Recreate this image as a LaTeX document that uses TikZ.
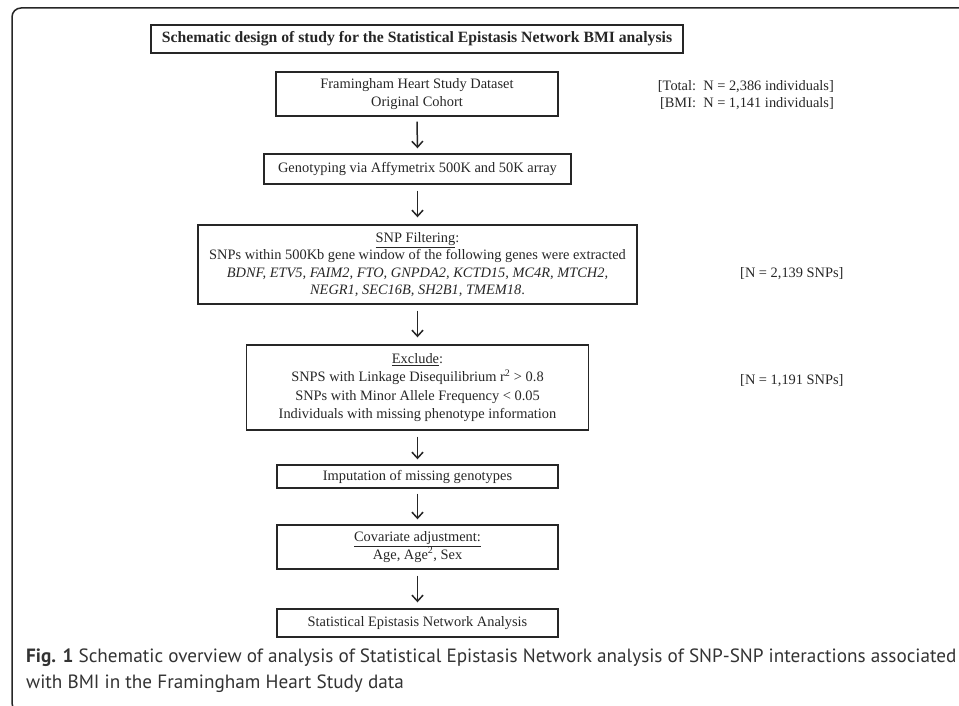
\documentclass[tikz,border=0pt]{standalone}
\usepackage{fontspec}
\setmainfont{Liberation Serif}
\newfontfamily\capfont{PT Sans}
\usetikzlibrary{arrows.meta}
\definecolor{ink}{HTML}{262626}
\definecolor{captxt}{HTML}{333333}
\begin{document}
\begin{tikzpicture}[x=1pt,y=-1pt,
  box/.style={draw=ink, line width=1.4pt, inner sep=0pt, text=ink, align=center,
    font=\fontsize{14.4}{17.3}\selectfont},
  arr/.style={draw=ink, line width=1.5pt, -{Straight Barb[length=6pt,width=11pt,line width=1.5pt]}},
  side/.style={text=ink, inner sep=0pt, font=\fontsize{14.4}{17}\selectfont},
  captext/.style={text=captxt, inner sep=0pt, anchor=west, font=\capfont\fontsize{19.2}{23}\selectfont}]
\clip (0,0) rectangle (959,706);
% outer frame
\draw[ink, line width=1.5pt, rounded corners=9pt] (970,8) -- (12,8) -- (12,712) -- (970,712);
% boxes
\node[box, minimum width=532pt, minimum height=28pt, font=\bfseries\fontsize{15.7}{18}\selectfont] (title) at (417,39)
  {Schematic design of study for the Statistical Epistasis Network BMI analysis};
\node[box, minimum width=282pt, minimum height=44pt] (b1) at (417,94)
  {Framingham Heart Study Dataset\\Original Cohort};
\node[box, minimum width=307pt, minimum height=30pt] (b2) at (417.5,169)
  {Genotyping via Affymetrix 500K and 50K array};
\node[box, minimum width=439pt, minimum height=79pt] (b3) at (417.5,264.5)
  {\underline{SNP Filtering}:\\
   SNPs within 500Kb gene window of the following genes were extracted\\
   \textit{BDNF, ETV5, FAIM2, FTO, GNPDA2, KCTD15, MC4R, MTCH2,}\\
   \textit{NEGR1, SEC16B, SH2B1, TMEM18}.};
\node[box, minimum width=342pt, minimum height=85pt, font=\fontsize{14.4}{18.3}\selectfont] (b4) at (417.5,387.5)
  {\underline{Exclude}:\\
   SNPS with Linkage Disequilibrium r\textsuperscript{2} > 0.8\\
   SNPs with Minor Allele Frequency < 0.05\\
   Individuals with missing phenotype information};
\node[box, minimum width=281pt, minimum height=23pt] (b5) at (417.5,476.5)
  {Imputation of missing genotypes};
\node[box, minimum width=281pt, minimum height=44pt] (b6) at (417.5,547)
  {\underline{Covariate adjustment:}\\Age, Age\textsuperscript{2}, Sex};
\node[box, minimum width=281pt, minimum height=28pt] (b7) at (417.5,623)
  {Statistical Epistasis Network Analysis};
% side notes
\node[side, align=right, anchor=east] (n1) at (834,95.5)
  {{[Total:\ \ N = 2,386 individuals]}\\{}{[BMI:\ \ N = 1,141 individuals]}};
\node[side, anchor=west] (n2) at (740,274) {[N = 2,139 SNPs]};
\node[side, anchor=west] (n3) at (740,381) {[N = 1,191 SNPs]};
% arrows
\draw[arr] ([yshift=-5pt]b1.south) -- ([yshift=5pt]b2.north);
\draw[arr] ([yshift=-6pt]b2.south) -- ([yshift=7pt]b3.north);
\draw[arr] ([yshift=-6pt]b3.south) -- ([yshift=7pt]b4.north);
\draw[arr] ([yshift=-6pt]b4.south) -- ([yshift=5pt]b5.north);
\draw[arr] ([yshift=-5pt]b5.south) -- ([yshift=5pt]b6.north);
\draw[arr] ([yshift=-6pt]b6.south) -- ([yshift=6pt]b7.north);
% caption
\node[captext] (c1) at (26,658) {{\bfseries Fig. 1} Schematic overview of analysis of Statistical Epistasis Network analysis of SNP-SNP interactions associated};
\node[captext] (c2) at (26,684) {with BMI in the Framingham Heart Study data};
\end{tikzpicture}
\end{document}
